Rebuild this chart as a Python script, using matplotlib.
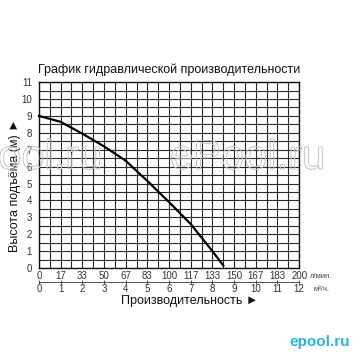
import numpy as np
import matplotlib
matplotlib.use("Agg")
import matplotlib.pyplot as plt
from matplotlib import patheffects

plt.rcParams['font.family'] = ['Liberation Sans', 'DejaVu Sans']

# Data
flow_m3h = [0, 1, 2, 3, 4, 5, 6, 7, 8, 8.5]
head_m = [9.0, 8.65, 7.95, 7.2, 6.35, 5.15, 3.9, 2.6, 1.0, 0.15]

m3h_ticks = [0, 1, 2, 3, 4, 5, 6, 7, 8, 9, 10, 11, 12]
lmin_labels = ['0', '17', '33', '50', '67', '83', '100', '117', '133', '150', '167', '183', '200']
y_ticks = [0, 1, 2, 3, 4, 5, 6, 7, 8, 9, 10, 11]

title = 'График гидравлической производительности'
ylabel = 'Высота подъёма (м) ►'
xlabel = 'Производительность ►'

fig = plt.figure(figsize=(3.54, 3.54), dpi=100)
ax = fig.add_axes([0.110, 0.243, 0.735, 0.525])

ax.set_xlim(0, 12)
ax.set_ylim(0, 11)

ax.set_xticks(m3h_ticks)
ax.set_xticklabels(lmin_labels)
ax.set_xticks(np.arange(0, 12.01, 0.5), minor=True)
ax.set_yticks(y_ticks)
ax.set_yticks(np.arange(0, 11.01, 0.5), minor=True)
ax.grid(True, which='both', color='#2a2a2a', linewidth=0.8)
ax.tick_params(axis='both', which='both', length=0)
ax.tick_params(axis='x', labelsize=7, pad=2, colors='#333333')
ax.tick_params(axis='y', labelsize=7, pad=5, colors='#333333')
for s in ax.spines.values():
    s.set_color('#111111')
    s.set_linewidth(1.0)

ax.plot(flow_m3h, head_m, color='black', linewidth=1.6, zorder=5, clip_on=False)

sec = ax.secondary_xaxis(-0.075)
sec.set_xticks(m3h_ticks)
sec.set_xticklabels([str(t) for t in m3h_ticks])
sec.tick_params(axis='x', direction='inout', length=3, width=0.6, labelsize=7, pad=0, colors='#333333')
sec.spines['bottom'].set_linewidth(0.6)
sec.spines['bottom'].set_color('#333333')

fig.text(310 / 354, 1 - 277 / 354, 'л/мин.', fontsize=5.5, color='#444444', va='center', ha='left')
fig.text(314 / 354, 1 - 289.5 / 354, 'м³/ч.', fontsize=5.5, color='#444444', va='center', ha='left')

fig.text(38 / 354, 1 - 70 / 354, title, fontsize=9, color='#111111', va='center', ha='left')
fig.text(15 / 354, 1 - 185 / 354, ylabel, fontsize=9, rotation=90, color='#111111', va='center', ha='center')
fig.text(190 / 354, 1 - 301 / 354, xlabel, fontsize=9, color='#111111', va='center', ha='center')

# watermarks
for xpos, ha in [(170 / 354, 'left'), (102 / 354, 'right')]:
    fig.text(xpos, 1 - 158 / 354, 'ePool.ru', fontsize=30, fontstretch='expanded', color=(1, 1, 1, 0),
             va='center', ha=ha,
             path_effects=[patheffects.Stroke(linewidth=0.7, foreground='#c4c4c4')], zorder=10)

fig.text(350 / 354, 1 - 342 / 354, 'epool.ru', fontsize=11, fontweight='bold', color='#27b4e4',
         va='center', ha='right')

fig.savefig('out.png', dpi=100)
